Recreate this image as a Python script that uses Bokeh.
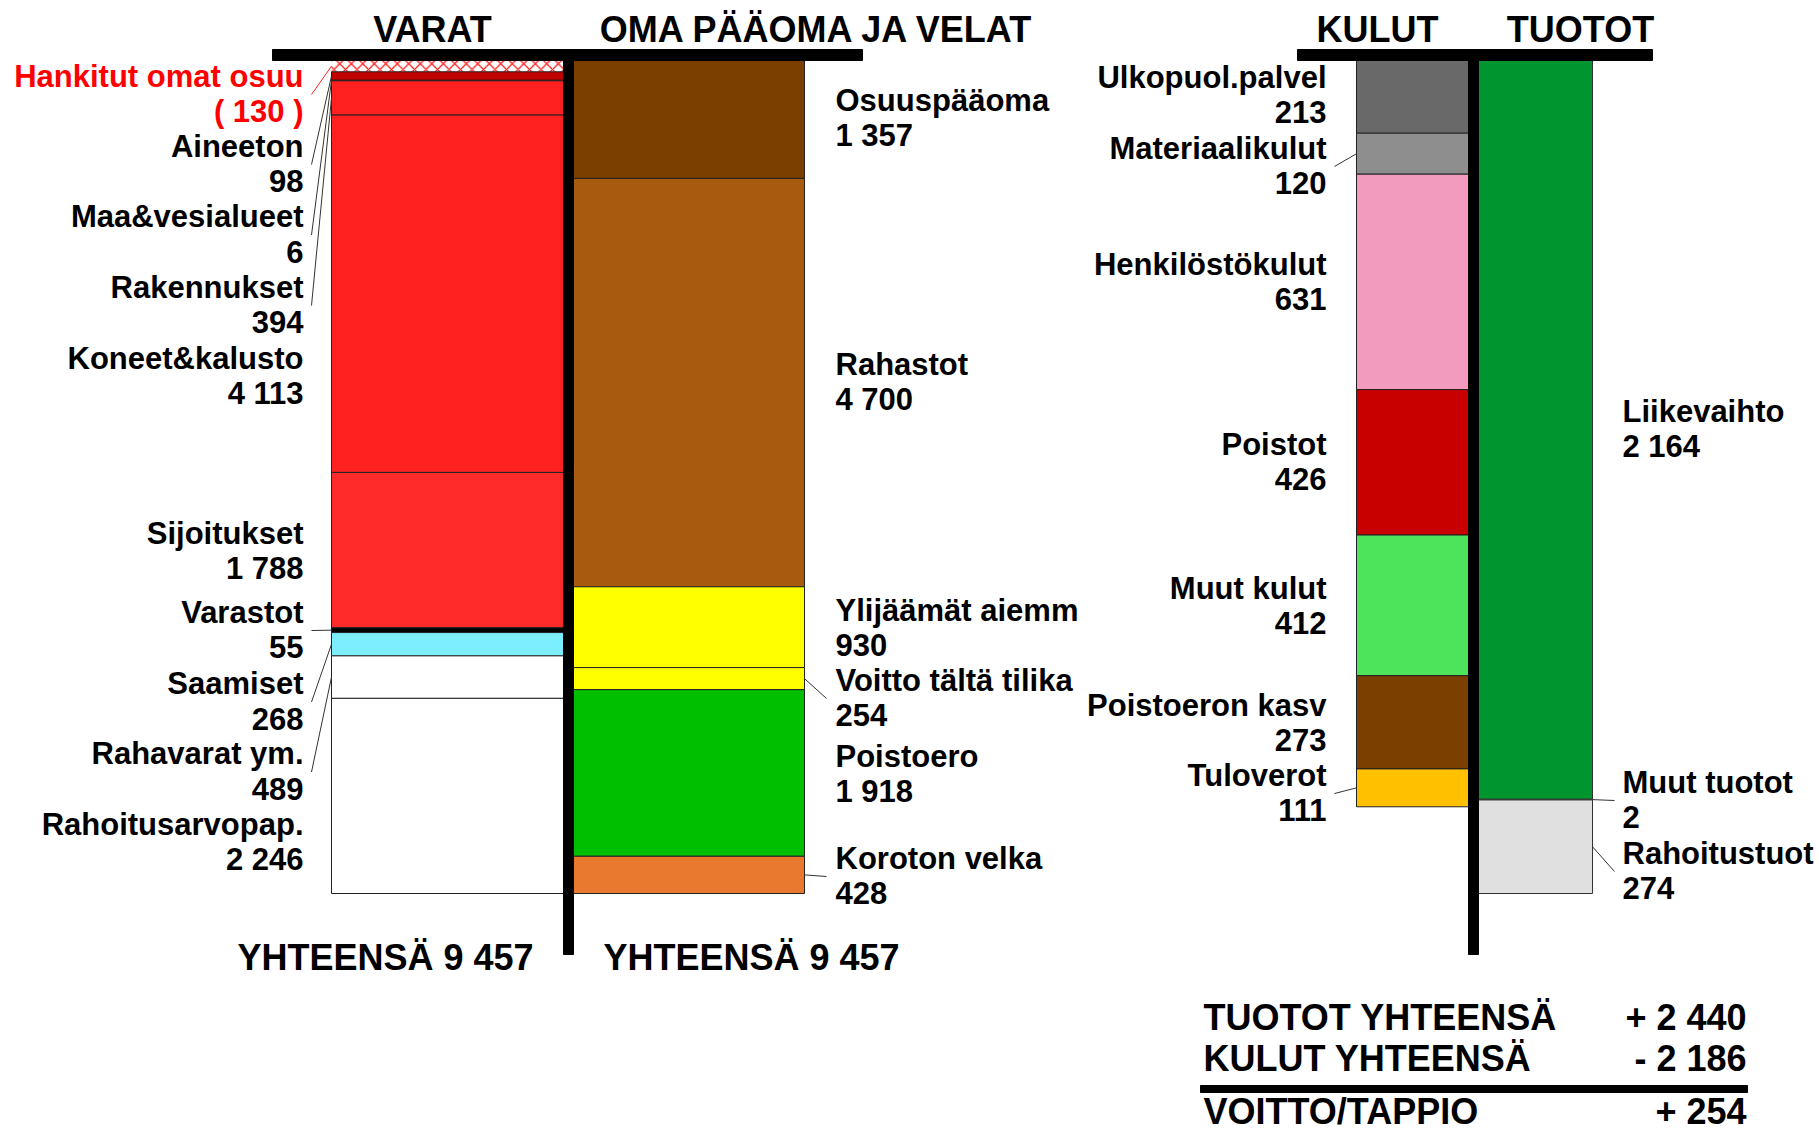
import numpy as np
from bokeh.plotting import figure
from bokeh.models import Range1d
from bokeh.embed import file_html
from bokeh.resources import INLINE
from bokeh.core.properties import value

# ---------------- data ----------------
own_shares_name = "Hankitut omat osuu"
own_shares = 130

asset_names = ["Aineeton", "Maa&vesialueet", "Rakennukset", "Koneet&kalusto",
               "Sijoitukset", "Varastot", "Saamiset", "Rahavarat ym.", "Rahoitusarvopap."]
asset_values = [98, 6, 394, 4113, 1788, 55, 268, 489, 2246]

liab_names = ["Osuuspääoma", "Rahastot", "Ylijäämät aiemm", "Voitto tältä tilika",
              "Poistoero", "Koroton velka"]
liab_values = [1357, 4700, 930, 254, 1918, 428]

cost_names = ["Ulkopuol.palvel", "Materiaalikulut", "Henkilöstökulut", "Poistot",
              "Muut kulut", "Poistoeron kasv", "Tuloverot"]
cost_values = [213, 120, 631, 426, 412, 273, 111]

income_names = ["Liikevaihto", "Muut tuotot", "Rahoitustuot"]
income_values = [2164, 2, 274]

# ---------------- styles ----------------
asset_colors = ["#C00000", "#FF2020", "#FF2020", "#FF2020", "#FF2B2B", "#000000",
                "#7BEEFF", "#FFFFFF", "#FFFFFF"]
liab_colors = ["#7B3F00", "#A85A0E", "#FFFF00", "#FFFF00", "#00BE00", "#E8792E"]
cost_colors = ["#696969", "#8E8E8E", "#F29BBE", "#C80000", "#4DE35A", "#7B3F00", "#FFC000"]
income_colors = ["#00952E", "#D8D8D8", "#E0E0E0"]

FONT = value("Liberation Sans")
W, H = 1815, 1131
TOP, BOT = 60, 893
DY = -12          # baseline correction for text glyphs
LBL_SIZE = "31px"
BIG_SIZE = "36px"

# label layout (screen px, block centres)
asset_lbl_c = [164, 234.5, 305, 376, 551, 630, 701.5, 771.5, 842.5]
own_lbl_c = 94
liab_lbl_c = [118, 382, 628, 698, 774, 876]
cost_lbl_c = [95, 166, 282, 462, 606, 723, 793]
income_lbl_c = [429, 800, 871]
asset_leader = [True, True, True, False, False, True, True, True, False]
liab_leader = [False, False, False, True, False, True]
cost_leader = [False, True, False, False, False, False, True]
income_leader = [False, True, True]

# columns (screen px)
A_L, A_R = 331, 563
L_L, L_R = 573, 804
C_L, C_R = 1356, 1468
I_L, I_R = 1478, 1592


def fmt(v):
    return f"{v:,}".replace(",", " ")


def stack(vals, start=0.0):
    ends = start + np.cumsum(vals)
    starts = ends - np.asarray(vals)
    return starts, ends


bal_total = own_shares + sum(asset_values)
inc_total = max(sum(cost_values), sum(income_values))
bal_k = (BOT - TOP) / bal_total
inc_k = (BOT - TOP) / inc_total

p = figure(width=W, height=H, output_backend="svg", toolbar_location=None,
           x_range=Range1d(0, W),
           y_range=Range1d((H - TOP) / bal_k, -TOP / bal_k),
           min_border=0, x_axis_location=None, y_axis_location=None,
           outline_line_color=None)
p.extra_y_ranges = {"inc": Range1d((H - TOP) / inc_k, -TOP / inc_k),
                    "px": Range1d(H, 0)}
for g in list(p.xgrid) + list(p.ygrid):
    g.visible = False
p.background_fill_color = "white"
p.border_fill_color = "white"

# ---------- stacks ----------
p.vbar(x=(A_L + A_R) / 2, width=A_R - A_L, bottom=0, top=own_shares,
       fill_color="white", hatch_pattern="diagonal_cross", hatch_color="#FF2020",
       hatch_scale=11.5, hatch_weight=1.3, line_color=None)

a_s, a_e = stack(asset_values, own_shares)
p.vbar(x=(A_L + A_R) / 2, width=A_R - A_L, bottom=a_s, top=a_e,
       fill_color=asset_colors, line_color="#222222", line_width=1)

l_s, l_e = stack(liab_values)
p.vbar(x=(L_L + L_R) / 2, width=L_R - L_L, bottom=l_s, top=l_e,
       fill_color=liab_colors, line_color="#222222", line_width=1)

c_s, c_e = stack(cost_values)
p.vbar(x=(C_L + C_R) / 2, width=C_R - C_L, bottom=c_s, top=c_e,
       fill_color=cost_colors, line_color="#222222", line_width=1, y_range_name="inc")

i_s, i_e = stack(income_values)
p.vbar(x=(I_L + I_R) / 2, width=I_R - I_L, bottom=i_s, top=i_e,
       fill_color=income_colors, line_color="#333333", line_width=1, y_range_name="inc")


# ---------- leaders ----------
def leaders(starts, ends, centres, flags, col_x, lbl_x, k, rng, color="#333333"):
    x0, y0, x1, y1 = [], [], [], []
    for s, e, c, f in zip(starts, ends, centres, flags):
        if f:
            x0.append(col_x)
            y0.append((s + e) / 2)
            x1.append(lbl_x)
            y1.append((c - TOP) / k)
    kw = {} if rng is None else {"y_range_name": rng}
    p.segment(x0=x0, y0=y0, x1=x1, y1=y1, line_color=color, line_width=1, **kw)


leaders([0], [own_shares], [own_lbl_c], [True], A_L, A_L - 20, bal_k, None, "#FF2020")
leaders(a_s, a_e, asset_lbl_c, asset_leader, A_L, A_L - 20, bal_k, None)
leaders(l_s, l_e, liab_lbl_c, liab_leader, L_R, L_R + 22, bal_k, None)
leaders(c_s, c_e, cost_lbl_c, cost_leader, C_L, C_L - 22, inc_k, "inc")
leaders(i_s, i_e, income_lbl_c, income_leader, I_R, I_R + 22, inc_k, "inc")


# ---------- labels ----------
def block(names, vals, x, centres, align, color="black"):
    n = len(names)
    for texts, off in ((names, -17.5), (vals, 17.5)):
        p.text(x=[x] * n, y=[c + off + 11 + DY for c in centres], text=texts,
               y_range_name="px", text_align=align, text_baseline="alphabetic",
               text_font=FONT, text_font_style="bold", text_font_size=LBL_SIZE,
               text_color=color)


block([own_shares_name], [f"( {own_shares} )"], 303, [own_lbl_c], "right", "#FF0000")
block(asset_names, [fmt(v) for v in asset_values], 303, asset_lbl_c, "right")
block(liab_names, [fmt(v) for v in liab_values], 835, liab_lbl_c, "left")
block(cost_names, [fmt(v) for v in cost_values], 1326, cost_lbl_c, "right")
block(income_names, [fmt(v) for v in income_values], 1622, income_lbl_c, "left")


def txt(x, y, s, align="center"):
    p.text(x=[x], y=[y], text=[s], y_range_name="px", text_align=align,
           text_baseline="alphabetic", text_font=FONT, text_font_style="bold",
           text_font_size=BIG_SIZE, text_color="black")


txt(432, 29, "VARAT")
txt(817, 29, "OMA PÄÄOMA JA VELAT")
txt(1377, 29, "KULUT")
txt(1580, 29, "TUOTOT")

assets_sum = sum(asset_values)
liab_sum = sum(liab_values) - own_shares
txt(385, 957, f"YHTEENSÄ {fmt(assets_sum)}")
txt(751, 957, f"YHTEENSÄ {fmt(liab_sum)}")

inc_sum = sum(income_values)
cost_sum = sum(cost_values)
result = inc_sum - cost_sum
txt(1203, 1017, "TUOTOT YHTEENSÄ", "left")
txt(1746, 1017, f"+ {fmt(inc_sum)}", "right")
txt(1203, 1058, "KULUT YHTEENSÄ", "left")
txt(1746, 1058, f"- {fmt(cost_sum)}", "right")
txt(1203, 1111, "VOITTO/TAPPIO", "left")
txt(1746, 1111, f"{'+' if result >= 0 else '-'} {fmt(abs(result))}", "right")

# ---------- T frames ----------
p.quad(left=[272, 563, 1297, 1468], right=[862, 573, 1652, 1478],
       top=[49, 49, 49, 49], bottom=[60, 954, 60, 954],
       fill_color="black", line_color="black", y_range_name="px")
p.quad(left=[1200], right=[1747], top=[1085], bottom=[1092],
       fill_color="black", line_color="black", y_range_name="px")

open("out.html", "w").write(file_html(p, INLINE))
